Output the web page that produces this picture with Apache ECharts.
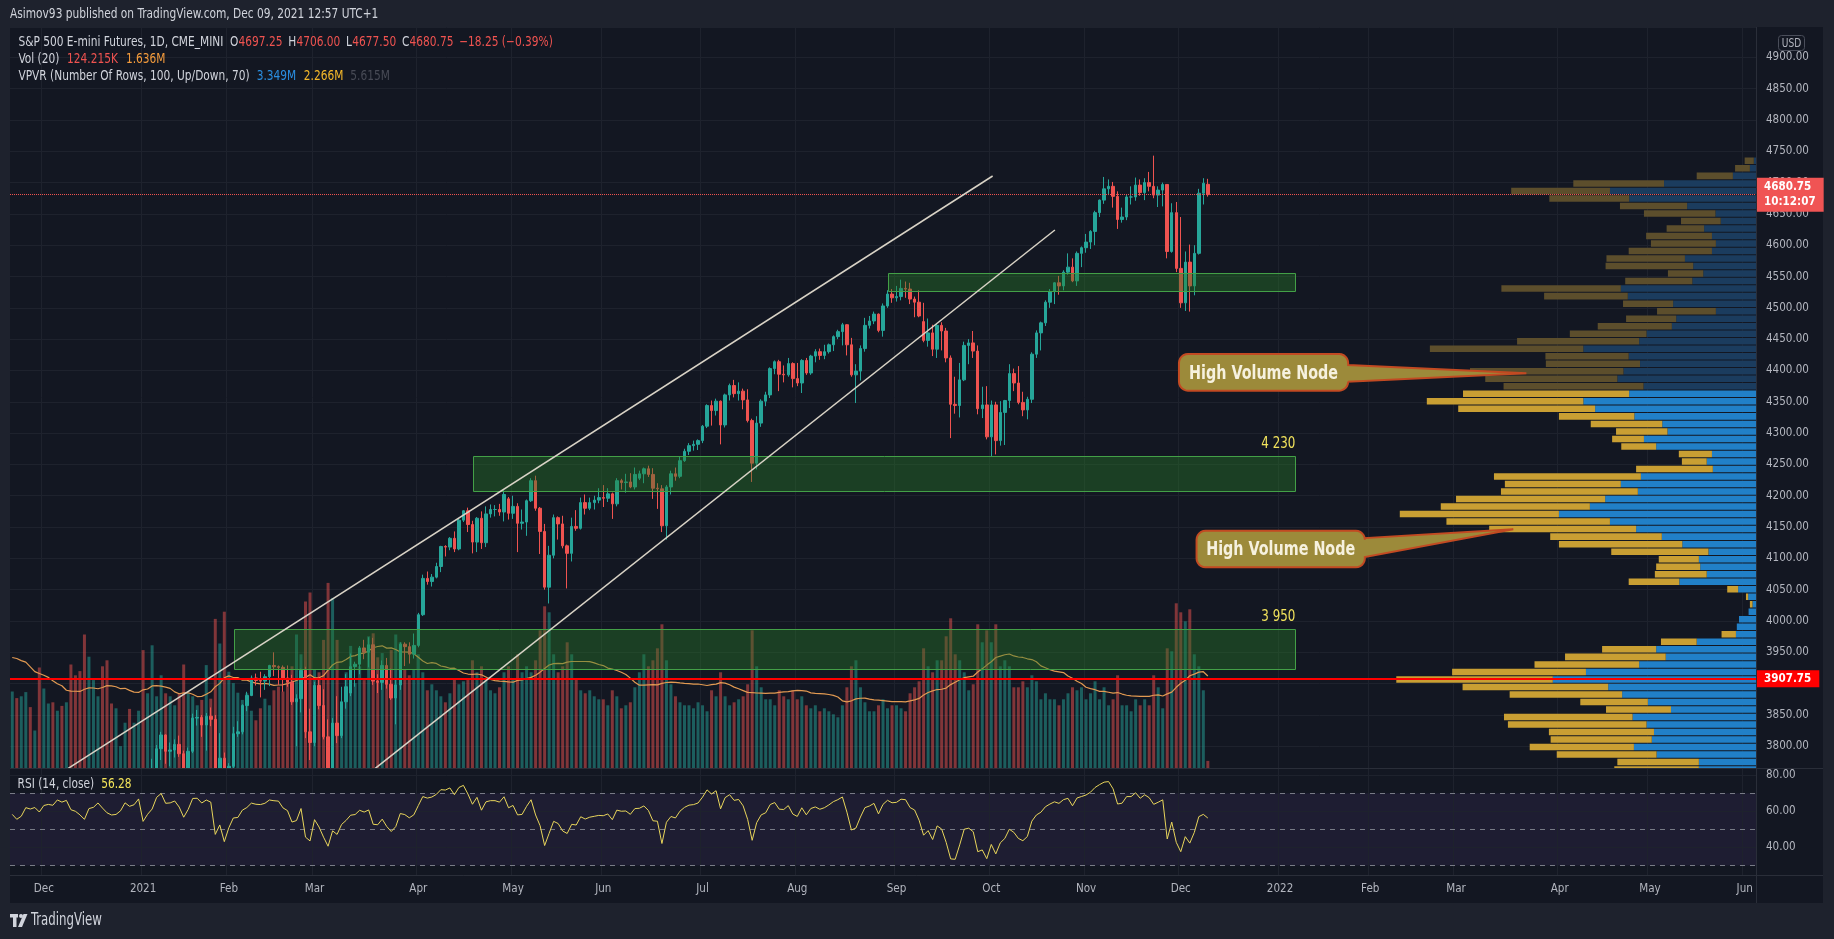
<!DOCTYPE html>
<html><head><meta charset="utf-8">
<script src="https://cdn.jsdelivr.net/npm/echarts@6/dist/echarts.min.js"></script>
<style>
html,body{margin:0;padding:0;background:#1e222d;width:1834px;height:939px;overflow:hidden;}
#frame{position:absolute;left:10px;top:27px;width:1813px;height:876px;background:#131722;}
#chart{position:absolute;left:0;top:0;width:1834px;height:939px;}
</style></head><body>
<div id="frame"></div><div id="chart"></div>
<script>
// ---------- calendar ----------
const holidays = ['2020-11-26','2020-12-25','2021-01-01','2021-01-18','2021-02-15','2021-04-02','2021-05-31','2021-07-05','2021-09-06','2021-11-25','2021-12-24','2022-01-17','2022-02-21','2022-04-15','2022-05-30'];
const firstDate = '2020-11-19', lastDate = '2022-06-03';
const monthNames = ['Jan','Feb','Mar','Apr','May','Jun','Jul','Aug','Sep','Oct','Nov','Dec'];

// ---------- daily candles [open, close, low, high] ----------
const nov2020 = [[3560,3579,3541,3583],[3578,3555,3550,3592],[3556,3574,3556,3591],[3575,3632,3572,3638],[3631,3626,3613,3643],[3627,3636,3623,3645],[3635,3618,3591,3640]];
const dec2020 = [[3618,3659,3612,3676],[3659,3666,3640,3668],[3666,3663,3654,3679],[3663,3696,3660,3697],[3695,3689,3677,3700],[3689,3699,3674,3703],[3699,3670,3655,3711],[3670,3665,3640,3677],[3657,3654,3626,3660],[3655,3640,3632,3688],[3640,3687,3637,3690],[3687,3693,3675,3706],[3693,3714,3690,3722],[3714,3700,3685,3720],[3700,3687,3625,3703],[3687,3681,3670,3695],[3681,3683,3674,3702],[3683,3696,3680,3700],[3696,3727,3694,3740],[3727,3719,3709,3748],[3719,3725,3716,3735],[3725,3748,3713,3750]];
const jan2021 = [[3748,3693,3652,3764],[3693,3719,3680,3723],[3719,3740,3662,3780],[3740,3796,3735,3802],[3796,3818,3778,3823],[3818,3792,3772,3819],[3792,3794,3768,3806],[3794,3803,3782,3811],[3803,3788,3783,3817],[3788,3761,3743,3793],[3761,3792,3760,3798],[3792,3845,3789,3852],[3845,3846,3833,3858],[3846,3834,3815,3850],[3834,3848,3793,3853],[3848,3843,3832,3862],[3843,3744,3731,3850],[3744,3781,3729,3821],[3781,3707,3695,3790]];
const feb2021 = [[3707,3768,3696,3773],[3768,3820,3763,3831],[3820,3823,3815,3840],[3823,3865,3819,3867],[3865,3881,3856,3887],[3881,3909,3880,3913],[3909,3905,3897,3916],[3905,3904,3878,3919],[3904,3911,3890,3915],[3911,3929,3896,3930],[3929,3927,3912,3950],[3927,3926,3898,3929],[3926,3909,3887,3929],[3909,3902,3895,3929],[3902,3871,3866,3914],[3871,3876,3800,3883],[3876,3921,3854,3924],[3921,3823,3813,3927],[3823,3806,3778,3860]];
const mar2021 = [[3806,3897,3800,3903],[3897,3865,3859,3911],[3865,3815,3811,3891],[3815,3763,3720,3843],[3763,3837,3721,3845],[3837,3817,3805,3880],[3817,3871,3813,3895],[3871,3895,3860,3915],[3885,3927,3880,3948],[3927,3931,3895,3935],[3931,3957,3915,3960],[3957,3950,3939,3970],[3950,3962,3926,3974],[3962,3904,3898,3973],[3904,3902,3885,3915],[3902,3929,3890,3937],[3929,3899,3892,3941],[3899,3877,3874,3924],[3877,3898,3835,3907],[3898,3963,3890,3966],[3963,3959,3928,3966],[3959,3947,3932,3966],[3947,3961,3940,3980]];
const apr2021 = [[3961,4010,3958,4013],[4010,4068,4008,4074],[4068,4063,4058,4079],[4063,4070,4055,4075],[4070,4087,4068,4093],[4087,4119,4078,4120],[4119,4118,4103,4121],[4118,4132,4113,4134],[4132,4115,4110,4143],[4115,4161,4113,4163],[4161,4176,4158,4177],[4176,4154,4142,4181],[4154,4126,4108,4160],[4126,4164,4110,4166],[4164,4125,4115,4175],[4125,4171,4118,4183],[4171,4178,4165,4186],[4178,4178,4167,4185],[4178,4174,4168,4187],[4174,4202,4159,4210],[4195,4172,4162,4198]];
const may2021 = [[4172,4183,4163,4200],[4183,4156,4110,4188],[4156,4158,4146,4178],[4158,4192,4136,4194],[4192,4224,4190,4228],[4224,4180,4176,4232],[4180,4143,4107,4182],[4143,4054,4050,4155],[4054,4105,4028,4120],[4105,4165,4100,4170],[4165,4155,4130,4167],[4155,4120,4116,4168],[4120,4108,4052,4122],[4108,4151,4095,4165],[4151,4148,4144,4177],[4148,4189,4146,4197],[4189,4180,4170,4202],[4180,4189,4177,4197],[4189,4193,4178,4200],[4193,4197,4188,4212]];
const jun2021 = [[4197,4196,4182,4217],[4196,4203,4190,4212],[4203,4187,4163,4205],[4187,4224,4183,4228],[4224,4221,4210,4227],[4221,4222,4205,4235],[4222,4214,4212,4236],[4214,4234,4210,4245],[4228,4235,4225,4240],[4235,4243,4220,4245],[4243,4234,4230,4248],[4234,4212,4195,4244],[4212,4211,4179,4220],[4211,4152,4142,4217],[4152,4214,4130,4217],[4214,4235,4202,4240],[4235,4231,4224,4245],[4231,4256,4228,4262],[4256,4271,4254,4275],[4271,4280,4265,4284],[4280,4282,4272,4288],[4282,4288,4273,4290]];
const jul2021 = [[4288,4311,4284,4313],[4311,4344,4308,4346],[4344,4336,4312,4352],[4336,4351,4328,4355],[4351,4313,4282,4352],[4313,4361,4309,4363],[4361,4376,4352,4379],[4376,4363,4357,4385],[4363,4367,4352,4381],[4367,4353,4338,4371],[4353,4320,4317,4370],[4320,4252,4222,4323],[4252,4316,4242,4327],[4316,4351,4310,4354],[4351,4361,4343,4366],[4361,4403,4356,4405],[4403,4414,4394,4416],[4414,4394,4367,4417],[4394,4393,4381,4408],[4393,4411,4390,4420],[4411,4387,4373,4413]];
const aug2021 = [[4387,4380,4375,4412],[4380,4416,4364,4418],[4416,4396,4393,4420],[4396,4423,4393,4425],[4423,4430,4413,4434],[4430,4424,4417,4435],[4424,4430,4418,4441],[4430,4441,4427,4443],[4441,4454,4431,4456],[4454,4462,4450,4465],[4462,4473,4440,4476],[4473,4441,4424,4474],[4441,4393,4390,4452],[4393,4399,4348,4410],[4399,4435,4384,4440],[4435,4472,4430,4484],[4472,4479,4467,4487],[4479,4490,4474,4494],[4490,4464,4461,4491],[4464,4503,4454,4507],[4503,4522,4500,4528],[4522,4516,4508,4530]];
const sep2021 = [[4516,4518,4510,4535],[4518,4531,4512,4545],[4531,4530,4516,4542],[4530,4514,4506,4540],[4514,4509,4485,4518],[4509,4487,4485,4528],[4478,4448,4445,4508],[4448,4460,4438,4483],[4460,4434,4423,4473],[4434,4472,4420,4474],[4472,4463,4432,4477],[4463,4420,4413,4468],[4420,4346,4292,4424],[4346,4344,4331,4390],[4344,4385,4325,4412],[4385,4440,4383,4446],[4440,4444,4410,4450],[4444,4431,4420,4463],[4431,4339,4330,4440],[4339,4345,4324,4374],[4345,4294,4290,4375]];
const oct2021 = [[4294,4345,4262,4352],[4345,4288,4266,4350],[4288,4333,4280,4351],[4333,4352,4281,4353],[4352,4395,4340,4410],[4395,4380,4367,4403],[4380,4349,4346,4407],[4349,4337,4327,4366],[4337,4354,4322,4358],[4354,4426,4348,4429],[4426,4460,4420,4464],[4460,4476,4432,4478],[4476,4509,4471,4512],[4509,4526,4500,4530],[4526,4540,4506,4541],[4540,4535,4521,4551],[4535,4557,4528,4560],[4557,4565,4553,4587],[4565,4543,4541,4579],[4543,4587,4535,4590],[4587,4596,4565,4598]];
const nov2021 = [[4596,4605,4588,4618],[4605,4622,4594,4624],[4622,4652,4600,4655],[4652,4672,4645,4673],[4672,4690,4666,4709],[4690,4694,4680,4705],[4694,4678,4660,4701],[4678,4641,4626,4686],[4641,4645,4636,4660],[4645,4677,4640,4680],[4677,4677,4665,4694],[4677,4696,4671,4708],[4696,4684,4679,4705],[4684,4700,4672,4707],[4700,4694,4686,4717],[4694,4680,4675,4743],[4680,4688,4661,4694],[4688,4697,4662,4700],[4697,4590,4579,4697],[4590,4652,4588,4667],[4652,4563,4557,4669]];
const dec2021 = [[4563,4508,4500,4645],[4508,4573,4495,4590],[4573,4535,4494,4601],[4535,4587,4520,4600],[4587,4683,4585,4690],[4683,4699,4665,4707],[4697.25,4680.75,4677.5,4706]];

// ---------- daily volume (millions) ----------
const volNov2020 = [1.28,1.17,1.2,1.27,1.02,0.63,1.68];
const volDec2020 = [1.33,1.08,1.1,0.96,1.04,1.1,1.73,1.55,1.62,2.23,1.86,1.47,1.2,1.7,1.8,1.08,1.0,0.37,0.76,0.99,0.76,0.96];
const volJan2021 = [1.97,1.25,2.05,1.2,1.55,1.25,1.2,1.05,1.25,1.73,1.25,1.2,1.05,1.14,1.72,1.16,2.49,2.08,2.61];
const volFeb2021 = [1.61,1.42,1.26,1.14,1.25,0.96,0.8,1.0,1.16,1.05,1.3,1.36,1.28,1.42,1.7,2.23,1.9,2.78,2.93];
const volMar2021 = [1.64,1.6,2.14,3.09,2.84,2.14,1.09,1.6,2.04,1.42,1.7,1.47,2.2,2.25,1.85,1.92,1.47,1.97,2.23,2.1,1.64,1.55,1.64];
const volApr2021 = [1.9,1.6,1.3,1.4,1.3,1.2,1.1,1.25,1.5,1.4,1.45,1.5,1.8,1.6,1.7,1.5,1.3,1.25,1.35,1.6,1.7];
const volMay2021 = [1.5,1.9,1.6,1.7,1.6,1.8,2.3,2.7,2.6,1.9,1.6,1.7,2.1,1.9,1.5,1.3,1.25,1.3,1.2,1.15];
const volJun2021 = [1.15,1.05,1.3,1.2,1.0,1.05,1.1,1.35,1.6,1.9,1.7,1.8,2.0,2.4,1.8,1.4,1.2,1.1,1.05,1.05,1.0,1.1];
const volJul2021 = [1.05,0.95,1.3,1.2,1.6,1.2,1.05,1.1,1.15,1.2,1.4,2.3,1.7,1.35,1.15,1.15,1.05,1.3,1.2,1.15,1.3];
const volAug2021 = [1.15,1.2,1.05,1.0,1.05,0.95,1.0,0.95,0.9,0.85,1.05,1.35,1.7,1.8,1.35,1.1,0.95,0.95,1.05,1.15,1.0,1.05];
const volSep2021 = [1.05,1.0,0.95,1.25,1.35,1.45,2.0,1.7,1.6,1.8,1.8,2.2,2.5,1.9,1.8,1.6,1.3,1.4,2.4,2.1,2.3];
const volOct2021 = [2.1,2.4,1.7,1.8,1.7,1.35,1.35,1.45,1.35,1.55,1.45,1.15,1.25,1.15,1.15,1.05,1.15,1.25,1.35,1.3,1.35];
const volNov2021 = [1.15,1.25,1.45,1.15,1.35,1.05,1.15,1.55,1.05,1.05,0.95,1.15,1.05,1.15,1.05,1.55,1.35,1.0,2.0,1.95,2.75];
const volDec2021 = [2.6,2.45,2.65,1.9,1.7,1.3,0.124];

// warm-up history (Oct 21 - Nov 18, 2020) for RSI / volume MA
const warmupCloses = [3432,3450,3462,3398,3387,3268,3307,3266,3307,3366,3440,3507,3506,3547,3542,3569,3534,3582,3623,3606,3565];
const warmupVolumes = [1.6,1.5,1.5,1.9,1.8,2.6,2.2,2.3,1.9,1.8,2.2,2.0,1.7,2.6,2.0,1.6,1.7,1.5,1.4,1.5,1.45];

// ---------- VPVR rows (top row first), millions ----------
const vpvrTopRowCenter = 4734.7, vpvrRowHeight = 12.0, vpvrValueAreaFirstRow = 31;
const vpvrUp = [0.05,0.14,0.53,2.11,3.349,2.91,1.58,0.93,0.81,1.19,1.01,0.92,1.01,1.63,1.44,1.21,1.46,3.10,2.94,1.90,0.92,1.83,1.93,2.51,2.68,3.96,2.92,2.66,3.04,3.18,2.58,2.91,3.96,3.69,2.79,2.15,2.03,2.57,2.29,1.01,1.13,0.99,2.64,3.10,2.71,3.46,3.81,4.52,3.35,2.75,2.16,1.69,1.09,1.31,1.28,1.13,1.76,0.41,0.18,0.08,0.17,0.39,0.44,0.46,1.36,2.29,2.07,2.68,3.90,4.66,3.39,3.07,2.48,1.95,2.83,2.51,2.34,2.39,2.80,2.28,1.31,1.31];
const vpvrDown = [0.21,0.34,0.83,2.08,2.266,1.83,1.54,1.64,0.91,0.86,1.51,1.49,1.91,1.80,2.01,0.81,1.54,2.74,1.92,1.15,1.35,1.15,1.70,1.76,2.80,3.52,1.91,2.16,3.52,3.03,3.21,3.81,3.59,3.14,1.73,1.64,1.18,0.73,0.80,0.76,0.57,1.76,3.37,2.66,3.14,3.42,3.42,3.65,3.75,3.37,2.56,2.83,2.23,0.92,1.01,1.19,1.16,0.25,0.05,0.06,0,0,0,0.33,0.82,1.24,2.31,2.40,3.07,3.59,3.34,2.58,1.55,1.49,2.95,3.18,2.41,2.32,2.39,2.29,1.87,1.94];

// ---------- drawings (bar-index, price) ----------
const zoneStart = [49.2, 102.1, 194.1];
const zoneEnd = [284.4, 284.4, 284.4];
const zoneLow = [3922.8, 4208, 4525.7];
const zoneHigh = [3987, 4263.4, 4555.1];
const zoneLabelText = ['3 950', '4 230'];
const zoneLabelPos = [[284.4, 4005.9], [284.4, 4282.1]];
const trendUpper = [[12.4, 3764.8], [217.3, 4710.5]];
const trendLower = [[80.45, 3764.8], [231.1, 4624.3]];
// callouts: [x0, x1, priceTop, priceBottom, basePrice1, basePrice2, tipX, tipPrice]
const callouts = [[258.6, 296.1, 4426.3, 4367.7, 4408.7, 4382, 335.6, 4395.5],
                  [262.5, 299.8, 4144.1, 4085.7, 4132.4, 4102.1, 332.7, 4146.4]];
const calloutText = 'High Volume Node';
const supportLevel = 3907.75, lastPrice = 4680.75;

// ---------- fonts ----------
const mctx = document.createElement('canvas').getContext('2d');
function installed(fam) {
  const s = 'abcdefghijklmnopqrstuvwxyz0123456789ABCDEFGHIJ';
  for (const base of ['monospace', 'serif']) {
    mctx.font = '32px ' + base; const w0 = mctx.measureText(s).width;
    mctx.font = '32px "' + fam + '", ' + base;
    if (Math.abs(mctx.measureText(s).width - w0) > 0.5) return true;
  }
  return false;
}
const FAMILY = ['Liberation Sans Narrow', 'DejaVu Sans Condensed', 'Noto Sans Condensed', 'Roboto Condensed', 'Roboto'].find(installed) || 'sans-serif';
const FF = '"' + FAMILY + '", sans-serif';
function tw(text, size, weight) { mctx.font = (weight || 'normal') + ' ' + size + 'px ' + FF; return mctx.measureText(text).width; }
const fitSize = (text, width, weight) => 20 * width / tw(text, 20, weight);
const AX = Math.min(14, fitSize('4900.00', 43));
const LEG = 14, LEGX = 205 / tw('S&P 500 E-mini Futures, 1D, CME_MINI', LEG);   // horizontal squeeze for legend texts
const fnt = (s, w) => (w || 'normal') + ' ' + s.toFixed(2) + 'px ' + FF;
const GRID = '#1e222d', AXIS_TXT = '#b2b5be', TXT = '#d1d4dc', RED = '#ef5350';

// ---------- build ----------
function tradingDays(a, b, hol) {
  const out = [], h = new Set(hol);
  let d = new Date(a + 'T00:00:00Z'); const e = new Date(b + 'T00:00:00Z');
  while (d <= e) { const wd = d.getUTCDay(), s = d.toISOString().slice(0, 10);
    if (wd !== 0 && wd !== 6 && !h.has(s)) out.push(s); d = new Date(d.getTime() + 86400000); }
  return out;
}
const dates = tradingDays(firstDate, lastDate, holidays);
const monthStart = dates.map((d, i) => i > 0 && d.slice(5, 7) !== dates[i - 1].slice(5, 7));
const candles = [].concat(nov2020, dec2020, jan2021, feb2021, mar2021, apr2021, may2021, jun2021, jul2021, aug2021, sep2021, oct2021, nov2021, dec2021);
const volumes = [].concat(volNov2020, volDec2020, volJan2021, volFeb2021, volMar2021, volApr2021, volMay2021, volJun2021, volJul2021, volAug2021, volSep2021, volOct2021, volNov2021, volDec2021);

const allCloses = warmupCloses.concat(candles.map(c => c[1]));
const allVols = warmupVolumes.concat(volumes);
function rsi(cl, n) { const out = cl.map(() => null); let g = 0, l = 0;
  for (let i = 1; i <= n; i++) { const d = cl[i] - cl[i - 1]; if (d > 0) g += d; else l -= d; }
  g /= n; l /= n; out[n] = 100 - 100 / (1 + g / l);
  for (let i = n + 1; i < cl.length; i++) { const d = cl[i] - cl[i - 1];
    g = (g * (n - 1) + Math.max(d, 0)) / n; l = (l * (n - 1) + Math.max(-d, 0)) / n;
    out[i] = l === 0 ? 100 : 100 - 100 / (1 + g / l); }
  return out; }
const W = warmupCloses.length;
const rsiVals = rsi(allCloses, 14).slice(W);
const volMA = volumes.map((v, i) => { const j = i + W; let s = 0, c = 0;
  for (let k = Math.max(0, j - 19); k <= j; k++) { s += allVols[k]; c++; } return s / c; });

const volData = volumes.map((v, i) => ({ value: v, itemStyle: { color: candles[i][1] >= candles[i][0] ? 'rgba(38,166,154,0.5)' : 'rgba(239,83,80,0.5)' } }));
const vpvrData = vpvrUp.map((u, k) => [k, u, vpvrDown[k]]);
const PX_PER_M = 43.6;

function calloutPoints(x0, y0, x1, y1, r, b1, b2, tx, ty) {
  const pts = [];
  const arc = (cx, cy, a0, a1) => { for (let k = 0; k <= 6; k++) { const a = a0 + (a1 - a0) * k / 6; pts.push([cx + r * Math.cos(a), cy + r * Math.sin(a)]); } };
  arc(x0 + r, y0 + r, Math.PI, 1.5 * Math.PI);
  arc(x1 - r, y0 + r, 1.5 * Math.PI, 2 * Math.PI);
  pts.push([x1, b1], [tx, ty], [x1, b2]);
  arc(x1 - r, y1 - r, 0, 0.5 * Math.PI);
  arc(x0 + r, y1 - r, 0.5 * Math.PI, Math.PI);
  return pts;
}

// graphic helpers (everything on layer 1, above the price pane)
const gtext = (x, y, text, fill, size, align, sx, weight) => ({ type: 'text', x: x, y: y, scaleX: sx || 1, silent: true, zlevel: 1, z: 100,
  style: { text: text, fill: fill, font: fnt(size, weight), align: align || 'left', verticalAlign: 'middle' } });
function row(x, y, segs) {   // segs: [text, colour, gapAfter]
  const out = [];
  segs.forEach(s => { out.push(gtext(x, y, s[0], s[1], LEG, 'left', LEGX)); x += tw(s[0], LEG) * LEGX + s[2]; });
  return out;
}
const legend = [].concat(
  [gtext(10, 14, 'Asimov93 published on TradingView.com, Dec 09, 2021 12:57 UTC+1', TXT, LEG, 'left', LEGX)],
  row(18.4, 42, [['S&P 500 E-mini Futures, 1D, CME_MINI', TXT, 6.5], ['O', TXT, 0.3], ['4697.25', RED, 5.7], ['H', TXT, 0.3], ['4706.00', RED, 5.7],
                 ['L', TXT, 0.3], ['4677.50', RED, 5.7], ['C', TXT, 0.3], ['4680.75', RED, 5.7], ['\u221218.25 (\u22120.39%)', RED, 0]]),
  row(18.4, 59, [['Vol (20)', TXT, 7.7], ['124.215K', RED, 8], ['1.636M', '#f39b3c', 0]]),
  row(18.4, 76, [['VPVR (Number Of Rows, 100, Up/Down, 70)', TXT, 7], ['3.349M', '#2a8ee0', 7.6], ['2.266M', '#f5b82a', 6.9], ['5.615M', '#474a55', 0]]),
  row(17.6, 784, [['RSI (14, close)', TXT, 7], ['56.28', '#f3e35a', 0]])
);
const CALL_SX = 149 / tw(calloutText, 20, '600');
const ZL_SX = 34 / tw('4 230', 15);

const chart = echarts.init(document.getElementById('chart'), null, { renderer: 'canvas' });
const option = {
  animation: false,
  backgroundColor: 'transparent',
  grid: [
    { left: 10, top: 27, width: 1746, height: 741.3, show: false },
    { left: 10, top: 768.3, width: 1746, height: 106.7, show: true, backgroundColor: '#131722', borderWidth: 0, zlevel: 1, z: 0 }
  ],
  xAxis: [
    { type: 'category', gridIndex: 0, data: dates, boundaryGap: true, axisLine: { show: false }, axisTick: { show: false }, axisLabel: { show: false },
      splitLine: { show: true, interval: (i) => monthStart[i], lineStyle: { color: GRID, width: 1 } } },
    { type: 'category', gridIndex: 1, data: dates, boundaryGap: true, zlevel: 1, z: 2, axisLine: { show: false }, axisTick: { show: false },
      axisLabel: { show: true, interval: (i) => monthStart[i], color: AXIS_TXT, fontSize: AX, fontFamily: FF, margin: 8,
        formatter: (v) => { const m = +v.slice(5, 7); return m === 1 ? v.slice(0, 4) : monthNames[m - 1]; } },
      splitLine: { show: true, interval: (i) => monthStart[i], lineStyle: { color: GRID, width: 1 } } },
    { type: 'value', gridIndex: 0, min: -0.5, max: dates.length - 0.5, show: false },
    { type: 'value', gridIndex: 0, min: 0, max: 1746 / PX_PER_M, inverse: true, show: false }
  ],
  yAxis: [
    { type: 'value', gridIndex: 0, position: 'right', min: 3764.8, max: 4948.4, splitNumber: 24,
      axisLine: { show: false }, axisTick: { show: false },
      axisLabel: { color: AXIS_TXT, fontSize: AX, fontFamily: FF, margin: 10, showMinLabel: false, showMaxLabel: false, formatter: (v) => v.toFixed(2) },
      splitLine: { lineStyle: { color: GRID } } },
    { type: 'value', gridIndex: 0, min: 0, max: 741.3 / 60, show: false },
    { type: 'value', gridIndex: 1, position: 'right', min: 24.75, max: 83.9, splitNumber: 3, zlevel: 1, z: 2,
      axisLine: { show: false }, axisTick: { show: false },
      axisLabel: { color: AXIS_TXT, fontSize: AX, fontFamily: FF, margin: 10, showMinLabel: false, showMaxLabel: false, formatter: (v) => v.toFixed(2) },
      splitLine: { lineStyle: { color: GRID } } }
  ],
  series: [
    { name: 'vpvr', type: 'custom', xAxisIndex: 3, yAxisIndex: 0, z: 1, clip: true, silent: true, data: vpvrData,
      renderItem: (params, api) => {
        const k = api.value(0), up = api.value(1), dn = api.value(2);
        const pc = vpvrTopRowCenter - k * vpvrRowHeight;
        const yTop = api.coord([0, pc + vpvrRowHeight / 2])[1] + 0.5;
        const yBot = api.coord([0, pc - vpvrRowHeight / 2])[1] - 0.5;
        const xR = api.coord([0, pc])[0], xU = api.coord([up, pc])[0], xT = api.coord([up + dn, pc])[0];
        const va = k >= vpvrValueAreaFirstRow;
        return { type: 'group', children: [
          { type: 'rect', shape: { x: xU, y: yTop, width: xR - xU, height: yBot - yTop }, style: { fill: va ? '#2180c8' : '#1b3c5e' } },
          { type: 'rect', shape: { x: xT, y: yTop, width: xU - xT, height: yBot - yTop }, style: { fill: va ? '#c99f33' : '#5c4e2c' } }
        ] };
      } },
    { name: 'Volume', type: 'bar', xAxisIndex: 0, yAxisIndex: 1, z: 2, barWidth: 3, data: volData, silent: true },
    { name: 'Vol MA', type: 'line', xAxisIndex: 0, yAxisIndex: 1, z: 3, data: volMA, showSymbol: false, silent: true,
      lineStyle: { color: '#e29a52', width: 1.2 } },
    { name: 'ES', type: 'candlestick', xAxisIndex: 0, yAxisIndex: 0, z: 4, barWidth: 3, data: candles, silent: true, clip: true,
      itemStyle: { color: '#26a69a', color0: '#ef5350', borderColor: '#26a69a', borderColor0: '#ef5350', borderWidth: 1 },
      markLine: { silent: true, symbol: ['none', 'none'], animation: false, data: [
        { yAxis: supportLevel, lineStyle: { color: '#ff0000', width: 2, type: 'solid' },
          label: { show: true, position: 'end', distance: 0, formatter: '3907.75', color: '#ffffff', backgroundColor: '#ff0000', padding: [3, 8, 2, 8], fontSize: AX, fontFamily: FF, fontWeight: 'bold' } },
        { yAxis: lastPrice, lineStyle: { color: '#ef5350', width: 1, type: 'dotted' },
          label: { show: true, position: 'end', distance: 0, formatter: '4680.75\n10:12:07', color: '#ffffff', backgroundColor: '#f05454', padding: [2, 8, 2, 8], lineHeight: 15, fontSize: AX, fontFamily: FF, fontWeight: 'bold' } }
      ] } },
    { name: 'zones', type: 'custom', xAxisIndex: 2, yAxisIndex: 0, z: 5, clip: true, silent: true,
      data: zoneStart.map((x, i) => [x, zoneEnd[i], zoneLow[i], zoneHigh[i]]),
      renderItem: (params, api) => {
        const a = api.coord([api.value(0), api.value(3)]), b = api.coord([api.value(1), api.value(2)]);
        return { type: 'rect', shape: { x: Math.round(a[0]) + 0.5, y: Math.round(a[1]) + 0.5, width: Math.round(b[0] - a[0]), height: Math.round(b[1] - a[1]) },
          style: { fill: 'rgba(40,125,40,0.4)', stroke: '#43a047', lineWidth: 1 } };
      } },
    { name: 'trendUpper', type: 'line', xAxisIndex: 2, yAxisIndex: 0, z: 6, data: trendUpper, showSymbol: false, silent: true, clip: true,
      lineStyle: { color: '#d9d3c6', width: 1.5 } },
    { name: 'trendLower', type: 'line', xAxisIndex: 2, yAxisIndex: 0, z: 6, data: trendLower, showSymbol: false, silent: true, clip: true,
      lineStyle: { color: '#d9d3c6', width: 1.5 } },
    { name: 'zoneLabels', type: 'custom', xAxisIndex: 2, yAxisIndex: 0, z: 8, silent: true, data: zoneLabelPos,
      renderItem: (params, api) => {
        const p = api.coord([api.value(0), api.value(1)]);
        return { type: 'text', x: p[0], y: p[1], scaleX: ZL_SX, style: { text: zoneLabelText[params.dataIndex], fill: '#f2e35c', font: fnt(15), align: 'right', verticalAlign: 'middle' } };
      } },
    { name: 'callouts', type: 'custom', xAxisIndex: 2, yAxisIndex: 0, z: 10, clip: false, silent: true, data: callouts,
      renderItem: (params, api) => {
        const v = (i) => api.value(i);
        const tl = api.coord([v(0), v(2)]), br = api.coord([v(1), v(3)]);
        const b1 = api.coord([v(1), v(4)])[1], b2 = api.coord([v(1), v(5)])[1];
        const tip = api.coord([v(6), v(7)]);
        const pts = calloutPoints(tl[0], tl[1], br[0], br[1], 9, b1, b2, tip[0], tip[1]);
        return { type: 'group', children: [
          { type: 'polygon', shape: { points: pts }, style: { fill: '#9c8a3a', stroke: '#c24a22', lineWidth: 2 } },
          { type: 'text', x: (tl[0] + br[0]) / 2, y: (tl[1] + br[1]) / 2 + 1, scaleX: CALL_SX,
            style: { text: calloutText, fill: '#f6f1de', font: fnt(20, '600'), align: 'center', verticalAlign: 'middle' } }
        ] };
      } },
    { name: 'RSI', type: 'line', xAxisIndex: 1, yAxisIndex: 2, zlevel: 1, z: 5, data: rsiVals, showSymbol: false, silent: true,
      lineStyle: { color: '#e8d55b', width: 1 },
      markArea: { silent: true, zlevel: 1, z: 1, itemStyle: { color: 'rgba(126,87,194,0.10)' }, data: [[{ yAxis: 30 }, { yAxis: 70 }]] },
      markLine: { silent: true, zlevel: 1, z: 3, symbol: ['none', 'none'], label: { show: false }, lineStyle: { color: '#787b86', type: [5, 5], width: 1 },
        data: [{ yAxis: 70 }, { yAxis: 50 }, { yAxis: 30 }] } }
  ],
  graphic: { elements: [
    // cover strips so nothing of the price pane spills below it
    { type: 'rect', shape: { x: 10, y: 875, width: 1813, height: 28 }, style: { fill: '#131722' }, zlevel: 1, z: -1, silent: true },
    { type: 'rect', shape: { x: 0, y: 903, width: 1834, height: 36 }, style: { fill: '#1e222d' }, zlevel: 1, z: -1, silent: true },
    { type: 'line', shape: { x1: 10, y1: 768.5, x2: 1823, y2: 768.5 }, style: { stroke: '#2a2e39', lineWidth: 1 }, zlevel: 1, z: 50, silent: true },
    { type: 'line', shape: { x1: 10, y1: 875.5, x2: 1823, y2: 875.5 }, style: { stroke: '#2a2e39', lineWidth: 1 }, zlevel: 1, z: 50, silent: true },
    { type: 'line', shape: { x1: 1756.5, y1: 27, x2: 1756.5, y2: 903 }, style: { stroke: '#2a2e39', lineWidth: 1 }, zlevel: 1, z: 50, silent: true },
    { type: 'rect', shape: { x: 1778.5, y: 35.5, width: 26, height: 15, r: 3 }, style: { fill: 'transparent', stroke: '#4a4e5a', lineWidth: 1 }, zlevel: 1, z: 60, silent: true },
    gtext(1791.5, 43.5, 'USD', '#b2b5be', 12, 'center', LEGX),
    { type: 'rect', shape: { x: 10, y: 914, width: 8, height: 3.5 }, style: { fill: TXT }, zlevel: 1, z: 60, silent: true },
    { type: 'rect', shape: { x: 13, y: 914, width: 3.5, height: 13 }, style: { fill: TXT }, zlevel: 1, z: 60, silent: true },
    { type: 'circle', shape: { cx: 21, cy: 916, r: 2 }, style: { fill: TXT }, zlevel: 1, z: 60, silent: true },
    { type: 'polygon', shape: { points: [[23.5, 914], [27.5, 914], [22, 927], [18, 927]] }, style: { fill: TXT }, zlevel: 1, z: 60, silent: true },
    gtext(31, 921, 'TradingView', TXT, 17, 'left', 71 / tw('TradingView', 17))
  ].concat(legend) }
};
chart.setOption(option);
</script></body></html>
